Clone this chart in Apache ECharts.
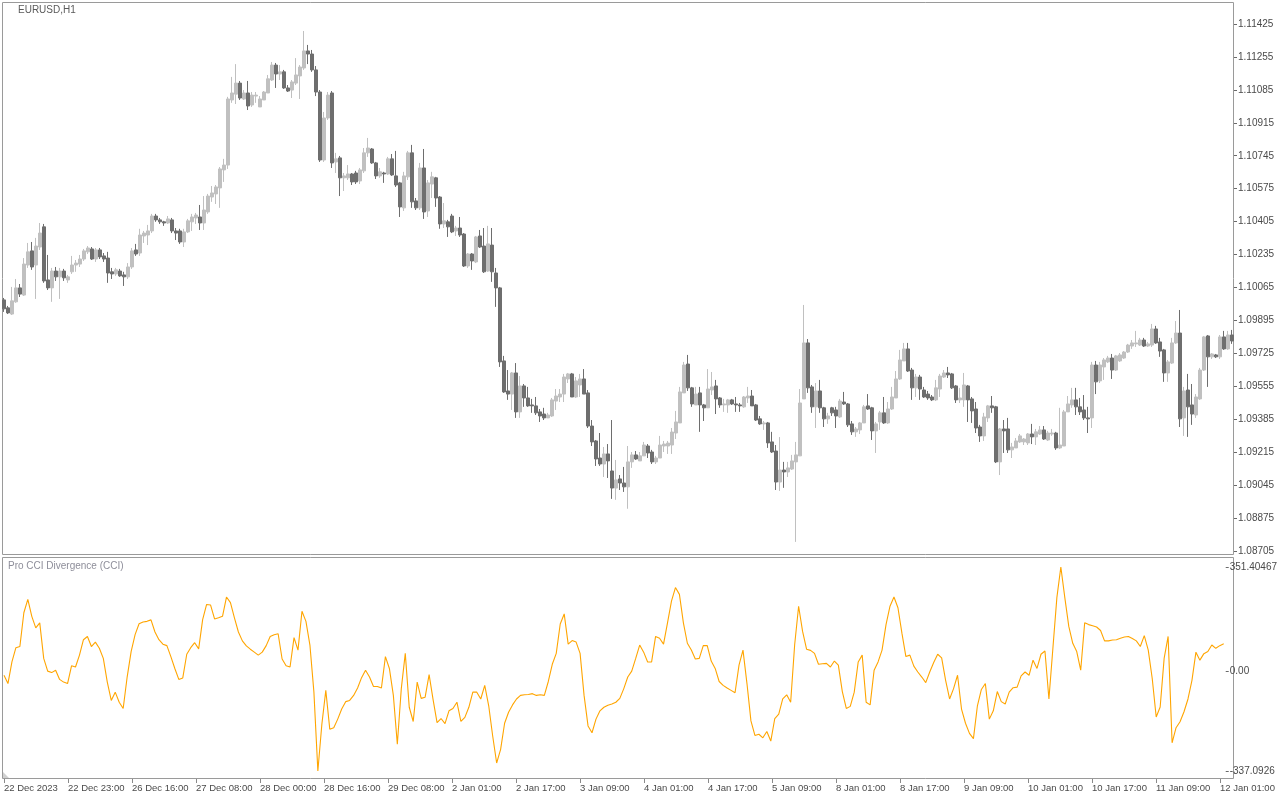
<!DOCTYPE html>
<html>
<head>
<meta charset="utf-8">
<script src="https://cdn.jsdelivr.net/npm/echarts@6/dist/echarts.min.js"></script>
<style>
html,body{margin:0;padding:0;background:#fff;}
#chart{width:1280px;height:800px;}
</style>
</head>
<body>
<div id="chart"></div>
<script>
// ---- tick labels ----
const timeTickLabels = ['22 Dec 2023','22 Dec 23:00','26 Dec 16:00','27 Dec 08:00','28 Dec 00:00','28 Dec 16:00','29 Dec 08:00','2 Jan 01:00','2 Jan 17:00','3 Jan 09:00','4 Jan 01:00','4 Jan 17:00','5 Jan 09:00','8 Jan 01:00','8 Jan 17:00','9 Jan 09:00','10 Jan 01:00','10 Jan 17:00','11 Jan 09:00','12 Jan 01:00'];
const priceTicks = [1.08705,1.08875,1.09045,1.09215,1.09385,1.09555,1.09725,1.09895,1.10065,1.10235,1.10405,1.10575,1.10745,1.10915,1.11085,1.11255,1.11425];
const cciTicks = [-337.0926, 0, 351.40467];
const cciTickLabels = ['-337.0926','0.00','351.40467'];

// ---- EURUSD H1 candles ----
const openP = [
1.10001,1.09960,1.09928,1.09991,1.10063,1.10026,1.10181,1.10254,1.10181,1.10274,
1.10378,1.10104,1.10063,1.10150,1.10120,1.10150,1.10104,1.10146,1.10181,1.10186,
1.10212,1.10249,1.10264,1.10212,1.10259,1.10228,1.10217,1.10146,1.10135,1.10150,
1.10130,1.10120,1.10171,1.10259,1.10243,1.10331,1.10336,1.10357,1.10434,1.10414,
1.10404,1.10398,1.10414,1.10357,1.10357,1.10300,1.10352,1.10404,1.10424,1.10429,
1.10398,1.10455,1.10532,1.10548,1.10579,1.10672,1.10697,1.11033,1.11063,1.11120,
1.11038,1.11069,1.11007,1.11053,1.10997,1.11033,1.11069,1.11136,1.11213,1.11167,
1.11178,1.11095,1.11084,1.11120,1.11157,1.11198,1.11286,1.11270,1.11188,1.11074,
1.10723,1.10940,1.11069,1.10713,1.10734,1.10631,1.10631,1.10651,1.10656,1.10615,
1.10667,1.10760,1.10780,1.10708,1.10641,1.10656,1.10651,1.10729,1.10641,1.10605,
1.10476,1.10636,1.10760,1.10512,1.10476,1.10682,1.10460,1.10599,1.10631,1.10532,
1.10393,1.10404,1.10434,1.10357,1.10372,1.10341,1.10176,1.10238,1.10197,1.10331,
1.10279,1.10150,1.10284,1.10140,1.10063,1.09686,1.09531,1.09515,1.09624,1.09423,
1.09557,1.09495,1.09459,1.09454,1.09423,1.09412,1.09392,1.09402,1.09479,1.09500,
1.09515,1.09593,1.09619,1.09500,1.09562,1.09593,1.09521,1.09350,1.09273,1.09185,
1.09154,1.09206,1.09118,1.09030,1.09077,1.09056,1.09036,1.09165,1.09201,1.09170,
1.09196,1.09247,1.09216,1.09165,1.09185,1.09247,1.09247,1.09252,1.09314,1.09366,
1.09521,1.09670,1.09547,1.09459,1.09521,1.09459,1.09444,1.09536,1.09557,1.09495,
1.09459,1.09459,1.09485,1.09464,1.09459,1.09449,1.09495,1.09505,1.09459,1.09387,
1.09361,1.09366,1.09268,1.09221,1.09061,1.09123,1.09113,1.09128,1.09165,1.09196,
1.09490,1.09779,1.09552,1.09449,1.09531,1.09444,1.09387,1.09444,1.09433,1.09397,
1.09474,1.09464,1.09361,1.09320,1.09330,1.09366,1.09454,1.09444,1.09325,1.09371,
1.09418,1.09366,1.09438,1.09495,1.09593,1.09686,1.09748,1.09639,1.09547,1.09603,
1.09536,1.09515,1.09500,1.09485,1.09541,1.09603,1.09624,1.09619,1.09557,1.09485,
1.09485,1.09557,1.09490,1.09438,1.09345,1.09299,1.09392,1.09454,1.09449,1.09165,
1.09335,1.09335,1.09227,1.09237,1.09268,1.09268,1.09263,1.09309,1.09294,1.09309,
1.09330,1.09278,1.09309,1.09314,1.09237,1.09247,1.09423,1.09459,1.09485,1.09449,
1.09433,1.09392,1.09392,1.09665,1.09583,1.09655,1.09681,1.09701,1.09639,1.09686,
1.09701,1.09732,1.09763,1.09774,1.09768,1.09794,1.09763,1.09768,1.09851,1.09784,
1.09743,1.09624,1.09675,1.09779,1.09830,1.09392,1.09536,1.09459,1.09407,1.09490,
1.09639,1.09815,1.09707,1.09717,1.09707,1.09810,1.09748,1.09820];
const closeP = [
1.09955,1.09934,1.09996,1.10063,1.10031,1.10186,1.10249,1.10171,1.10279,1.10346,
1.10099,1.10063,1.10150,1.10120,1.10150,1.10115,1.10120,1.10181,1.10191,1.10212,
1.10254,1.10269,1.10212,1.10259,1.10223,1.10212,1.10140,1.10135,1.10156,1.10125,
1.10120,1.10171,1.10254,1.10238,1.10336,1.10346,1.10357,1.10434,1.10414,1.10404,
1.10398,1.10419,1.10357,1.10346,1.10300,1.10352,1.10409,1.10429,1.10439,1.10398,
1.10465,1.10537,1.10553,1.10584,1.10677,1.10697,1.11038,1.11069,1.11120,1.11043,
1.11069,1.11002,1.11058,1.11058,1.11038,1.11074,1.11142,1.11213,1.11167,1.11178,
1.11095,1.11079,1.11126,1.11162,1.11203,1.11286,1.11270,1.11188,1.11074,1.10723,
1.10940,1.11058,1.10708,1.10729,1.10631,1.10641,1.10651,1.10610,1.10610,1.10672,
1.10760,1.10785,1.10708,1.10641,1.10662,1.10651,1.10729,1.10646,1.10594,1.10481,
1.10641,1.10760,1.10507,1.10476,1.10682,1.10455,1.10605,1.10636,1.10527,1.10393,
1.10409,1.10378,1.10352,1.10372,1.10336,1.10176,1.10238,1.10202,1.10326,1.10274,
1.10146,1.10290,1.10146,1.10063,1.09681,1.09526,1.09515,1.09624,1.09423,1.09557,
1.09495,1.09454,1.09454,1.09418,1.09402,1.09392,1.09407,1.09485,1.09505,1.09515,
1.09603,1.09619,1.09500,1.09583,1.09593,1.09515,1.09350,1.09268,1.09180,1.09154,
1.09206,1.09170,1.09030,1.09072,1.09056,1.09036,1.09165,1.09201,1.09180,1.09196,
1.09252,1.09211,1.09165,1.09185,1.09252,1.09257,1.09262,1.09319,1.09371,1.09526,
1.09665,1.09547,1.09464,1.09515,1.09459,1.09444,1.09541,1.09552,1.09490,1.09459,
1.09464,1.09485,1.09464,1.09459,1.09454,1.09500,1.09505,1.09454,1.09381,1.09361,
1.09366,1.09263,1.09216,1.09061,1.09123,1.09113,1.09134,1.09170,1.09201,1.09469,
1.09779,1.09547,1.09449,1.09531,1.09444,1.09387,1.09402,1.09418,1.09402,1.09479,
1.09464,1.09356,1.09320,1.09335,1.09366,1.09449,1.09438,1.09325,1.09361,1.09418,
1.09366,1.09438,1.09500,1.09593,1.09691,1.09748,1.09634,1.09547,1.09603,1.09541,
1.09500,1.09495,1.09485,1.09547,1.09608,1.09624,1.09614,1.09547,1.09485,1.09495,
1.09562,1.09485,1.09428,1.09340,1.09299,1.09397,1.09454,1.09444,1.09165,1.09335,
1.09325,1.09227,1.09242,1.09273,1.09299,1.09283,1.09309,1.09294,1.09320,1.09330,
1.09283,1.09314,1.09314,1.09237,1.09252,1.09423,1.09464,1.09485,1.09449,1.09423,
1.09392,1.09387,1.09665,1.09578,1.09665,1.09691,1.09701,1.09639,1.09712,1.09717,
1.09732,1.09768,1.09779,1.09779,1.09794,1.09763,1.09774,1.09851,1.09779,1.09737,
1.09624,1.09681,1.09779,1.09830,1.09387,1.09531,1.09449,1.09412,1.09500,1.09639,
1.09810,1.09707,1.09722,1.09707,1.09810,1.09748,1.09820,1.09789];
const lowP = [
1.09939,1.09928,1.09923,1.09986,1.10016,1.10021,1.10166,1.10156,1.10006,1.10259,
1.10089,1.10052,1.09991,1.10099,1.10006,1.10099,1.10089,1.10135,1.10146,1.10171,
1.10202,1.10238,1.10207,1.10197,1.10212,1.10197,1.10089,1.10109,1.10125,1.10120,
1.10073,1.10109,1.10161,1.10228,1.10228,1.10295,1.10284,1.10346,1.10404,1.10393,
1.10383,1.10393,1.10346,1.10310,1.10290,1.10274,1.10346,1.10357,1.10393,1.10362,
1.10362,1.10445,1.10507,1.10496,1.10476,1.10610,1.10677,1.11018,1.11012,1.11033,
1.11033,1.10981,1.10997,1.11018,1.10997,1.11033,1.11069,1.11131,1.11095,1.11136,
1.11090,1.11074,1.11043,1.11110,1.11038,1.11188,1.11218,1.11178,1.11053,1.10713,
1.10713,1.10930,1.10682,1.10656,1.10537,1.10563,1.10620,1.10594,1.10599,1.10599,
1.10656,1.10739,1.10703,1.10625,1.10631,1.10605,1.10646,1.10641,1.10584,1.10429,
1.10460,1.10620,1.10476,1.10465,1.10465,1.10419,1.10429,1.10527,1.10481,1.10368,
1.10372,1.10326,1.10346,1.10331,1.10326,1.10171,1.10166,1.10156,1.10191,1.10269,
1.10140,1.10146,1.10094,1.09965,1.09655,1.09521,1.09485,1.09433,1.09392,1.09392,
1.09449,1.09449,1.09418,1.09407,1.09371,1.09381,1.09392,1.09397,1.09433,1.09474,
1.09474,1.09572,1.09500,1.09495,1.09500,1.09515,1.09340,1.09247,1.09144,1.09144,
1.09087,1.09082,1.08974,1.08969,1.09020,1.09010,1.08923,1.09134,1.09175,1.09170,
1.09196,1.09185,1.09154,1.09154,1.09185,1.09216,1.09206,1.09206,1.09283,1.09366,
1.09521,1.09531,1.09449,1.09459,1.09320,1.09376,1.09444,1.09510,1.09412,1.09444,
1.09423,1.09418,1.09459,1.09423,1.09423,1.09444,1.09469,1.09454,1.09376,1.09356,
1.09330,1.09237,1.09211,1.09020,1.09015,1.09031,1.09087,1.09123,1.08752,1.09196,
1.09490,1.09521,1.09418,1.09340,1.09418,1.09345,1.09361,1.09402,1.09340,1.09392,
1.09459,1.09345,1.09304,1.09294,1.09309,1.09366,1.09433,1.09278,1.09211,1.09330,
1.09361,1.09361,1.09433,1.09495,1.09588,1.09686,1.09629,1.09485,1.09500,1.09485,
1.09495,1.09485,1.09479,1.09479,1.09500,1.09598,1.09598,1.09541,1.09469,1.09469,
1.09449,1.09371,1.09366,1.09314,1.09268,1.09273,1.09371,1.09418,1.09159,1.09097,
1.09211,1.09211,1.09185,1.09237,1.09263,1.09252,1.09252,1.09257,1.09252,1.09304,
1.09278,1.09273,1.09299,1.09227,1.09232,1.09247,1.09423,1.09444,1.09407,1.09407,
1.09381,1.09314,1.09340,1.09515,1.09572,1.09588,1.09675,1.09593,1.09634,1.09681,
1.09696,1.09727,1.09748,1.09758,1.09763,1.09758,1.09758,1.09758,1.09774,1.09707,
1.09578,1.09578,1.09670,1.09774,1.09345,1.09299,1.09294,1.09356,1.09392,1.09485,
1.09634,1.09552,1.09696,1.09701,1.09696,1.09743,1.09743,1.09774];
const highP = [
1.10011,1.09970,1.10068,1.10109,1.10083,1.10217,1.10295,1.10300,1.10321,1.10398,
1.10393,1.10233,1.10166,1.10171,1.10166,1.10161,1.10130,1.10228,1.10207,1.10233,
1.10264,1.10279,1.10274,1.10269,1.10269,1.10243,1.10249,1.10166,1.10166,1.10161,
1.10146,1.10191,1.10269,1.10290,1.10368,1.10357,1.10388,1.10445,1.10445,1.10424,
1.10409,1.10434,1.10424,1.10372,1.10368,1.10368,1.10419,1.10445,1.10450,1.10491,
1.10537,1.10548,1.10589,1.10594,1.10687,1.10729,1.11049,1.11152,1.11218,1.11131,
1.11084,1.11131,1.11074,1.11074,1.11053,1.11079,1.11162,1.11229,1.11224,1.11213,
1.11188,1.11110,1.11136,1.11249,1.11213,1.11389,1.11317,1.11291,1.11208,1.11084,
1.10971,1.11074,1.11079,1.10760,1.10744,1.10656,1.10697,1.10656,1.10667,1.10682,
1.10785,1.10837,1.10785,1.10713,1.10682,1.10662,1.10739,1.10754,1.10770,1.10610,
1.10662,1.10770,1.10801,1.10527,1.10708,1.10780,1.10620,1.10662,1.10636,1.10537,
1.10501,1.10414,1.10445,1.10383,1.10429,1.10346,1.10243,1.10243,1.10331,1.10362,
1.10372,1.10383,1.10372,1.10166,1.10068,1.09712,1.09639,1.09629,1.09675,1.09608,
1.09567,1.09552,1.09490,1.09500,1.09438,1.09444,1.09418,1.09495,1.09541,1.09541,
1.09619,1.09624,1.09624,1.09603,1.09619,1.09644,1.09536,1.09381,1.09278,1.09314,
1.09242,1.09257,1.09381,1.09175,1.09097,1.09139,1.09247,1.09216,1.09221,1.09216,
1.09268,1.09257,1.09227,1.09196,1.09299,1.09273,1.09273,1.09340,1.09428,1.09552,
1.09681,1.09717,1.09552,1.09552,1.09552,1.09464,1.09644,1.09629,1.09588,1.09500,
1.09490,1.09490,1.09490,1.09500,1.09469,1.09505,1.09552,1.09536,1.09464,1.09402,
1.09376,1.09371,1.09320,1.09252,1.09293,1.09165,1.09165,1.09201,1.09268,1.09541,
1.09975,1.09799,1.09562,1.09572,1.09588,1.09449,1.09418,1.09449,1.09449,1.09490,
1.09526,1.09469,1.09376,1.09345,1.09371,1.09459,1.09515,1.09449,1.09371,1.09428,
1.09500,1.09474,1.09552,1.09634,1.09743,1.09779,1.09779,1.09650,1.09619,1.09614,
1.09552,1.09531,1.09510,1.09588,1.09619,1.09639,1.09655,1.09624,1.09562,1.09547,
1.09624,1.09562,1.09500,1.09474,1.09356,1.09418,1.09459,1.09505,1.09454,1.09340,
1.09381,1.09392,1.09263,1.09288,1.09309,1.09288,1.09314,1.09361,1.09335,1.09350,
1.09350,1.09325,1.09335,1.09320,1.09444,1.09433,1.09505,1.09547,1.09547,1.09495,
1.09510,1.09449,1.09681,1.09686,1.09681,1.09701,1.09712,1.09722,1.09717,1.09727,
1.09737,1.09774,1.09794,1.09841,1.09805,1.09805,1.09784,1.09877,1.09867,1.09805,
1.09748,1.09691,1.09805,1.09892,1.09949,1.09552,1.09619,1.09567,1.09515,1.09650,
1.09815,1.09820,1.09727,1.09722,1.09820,1.09841,1.09841,1.09846];

// ---- Pro CCI Divergence (CCI) ----
const cciValues = [
-14,-42,31,79,83,197,242,185,146,163,
43,0,-5,3,-28,-37,-42,18,14,54,
106,117,83,98,77,43,-37,-99,-71,-105,
-126,-20,66,123,160,166,168,173,132,106,
91,86,49,9,-28,-23,57,79,96,75,
174,225,223,176,180,185,250,231,180,132,
102,85,74,64,54,64,86,117,123,126,
41,18,14,113,71,202,168,88,-70,-337.0926,
-180,-65,-196,-191,-162,-128,-103,-99,-82,-57,
-22,3,-20,-52,-52,-57,49,9,-82,-247,
-59,60,-122,-170,-37,-92,-88,-12,-96,-174,
-160,-177,-134,-126,-105,-170,-156,-122,-71,-71,
-94,-48,-117,-219,-310,-264,-176,-139,-114,-94,
-82,-80,-79,-76,-82,-80,-82,-35,23,60,
159,193,91,103,98,60,-82,-185,-208,-162,
-134,-122,-115,-111,-105,-92,-59,-20,0,43,
88,64,31,31,117,111,91,163,236,282,
259,163,94,71,41,43,86,86,34,9,
-35,-48,-57,-65,-73,20,71,-42,-168,-217,
-213,-225,-204,-236,-160,-145,-94,-80,-105,88,
219,134,74,70,60,23,25,26,14,34,
20,-69,-126,-119,-71,31,54,-105,-114,3,
31,71,157,219,250,214,128,49,54,17,
-3,-20,-39,-3,29,57,45,-31,-94,-59,
-14,-128,-176,-210,-228,-117,-62,-42,-162,-134,
-69,-103,-111,-71,-56,-54,-16,-3,-14,37,
9,57,68,-94,77,248,351.40467,248,151,94,
66,3,163,157,153,149,137,102,102,105,
106,111,115,117,110,102,83,120,71,-25,
-155,-121,43,117,-242,-191,-171,-137,-94,-31,
64,37,59,66,88,77,86,92];

const categories = openP.map((_, i) => String(i));
const candleData = openP.map((o, i) => [o, closeP[i], lowP[i], highP[i]]);

const FONT = 'Liberation Sans';
const chart = echarts.init(document.getElementById('chart'), null, {renderer: 'canvas'});
const option = {
  animation: false,
  backgroundColor: '#ffffff',
  textStyle: {fontFamily: FONT},
  grid: [
    {left: 2, width: 1232, top: 24, height: 527},
    {left: 2, width: 1232, top: 567, height: 204},
    {left: 2, width: 1232, top: 778, height: 1}
  ],
  xAxis: [
    {type: 'category', gridIndex: 0, data: categories, boundaryGap: true, show: false},
    {type: 'category', gridIndex: 1, data: categories, boundaryGap: true, show: false},
    {type: 'category', gridIndex: 2, data: categories, boundaryGap: true, position: 'bottom',
     axisLine: {show: false},
     axisTick: {show: true, interval: 15, alignWithLabel: true, length: 4, lineStyle: {color: '#8a8a8a'}},
     axisLabel: {interval: 15, align: 'left', margin: 4, color: '#4a4a4a', fontSize: 9.5, fontFamily: FONT,
       formatter: (v, idx) => timeTickLabels[Math.round(idx / 16)] || ''}
    }
  ],
  yAxis: [
    {type: 'value', gridIndex: 0, position: 'right', min: priceTicks[0], max: priceTicks[priceTicks.length - 1],
     splitLine: {show: false}, axisLine: {show: false},
     axisTick: {show: true, customValues: priceTicks, length: 3, lineStyle: {color: '#6a6a6a'}},
     axisLabel: {customValues: priceTicks, margin: 4, color: '#4a4a4a', fontSize: 10, fontFamily: FONT,
       formatter: v => v.toFixed(5)}
    },
    {type: 'value', gridIndex: 1, position: 'right', min: cciTicks[0], max: cciTicks[2],
     splitLine: {show: false}, axisLine: {show: false},
     axisTick: {show: true, customValues: cciTicks, length: 3, lineStyle: {color: '#6a6a6a'}},
     axisLabel: {customValues: cciTicks, margin: 4, color: '#4a4a4a', fontSize: 10, fontFamily: FONT,
       formatter: v => {
         for (let k = 0; k < cciTicks.length; k++) { if (Math.abs(v - cciTicks[k]) < 1e-6) return cciTickLabels[k]; }
         return '';
       }}
    },
    {type: 'value', gridIndex: 2, show: false}
  ],
  series: [
    {type: 'candlestick', name: 'EURUSD,H1', xAxisIndex: 0, yAxisIndex: 0, data: candleData,
     barWidth: 3,
     itemStyle: {color: '#c0c0c0', color0: '#6e6e6e', borderColor: '#c0c0c0', borderColor0: '#6e6e6e', borderWidth: 1}
    },
    {type: 'line', name: 'Pro CCI Divergence (CCI)', xAxisIndex: 1, yAxisIndex: 1, data: cciValues,
     symbol: 'none', lineStyle: {color: '#ffa500', width: 1.1}
    }
  ],
  graphic: [
    {type: 'rect', silent: true, shape: {x: 2.5, y: 2.5, width: 1231, height: 552}, style: {fill: null, stroke: '#9a9a9a', lineWidth: 1}},
    {type: 'rect', silent: true, shape: {x: 2.5, y: 557.5, width: 1231, height: 221}, style: {fill: null, stroke: '#9a9a9a', lineWidth: 1}},
    {type: 'text', silent: true, left: 18, top: 5, style: {text: 'EURUSD,H1', fill: '#5a5a5a', font: '10px "Liberation Sans"'}},
    {type: 'text', silent: true, left: 8, top: 561, style: {text: 'Pro CCI Divergence (CCI)', fill: '#8e8e9a', font: '10px "Liberation Sans"'}},
    {type: 'polygon', silent: true, shape: {points: [[3, 772], [3, 778], [9, 778]]}, style: {fill: '#d0d0d0'}}
  ]
};
chart.setOption(option);
</script>
</body>
</html>
